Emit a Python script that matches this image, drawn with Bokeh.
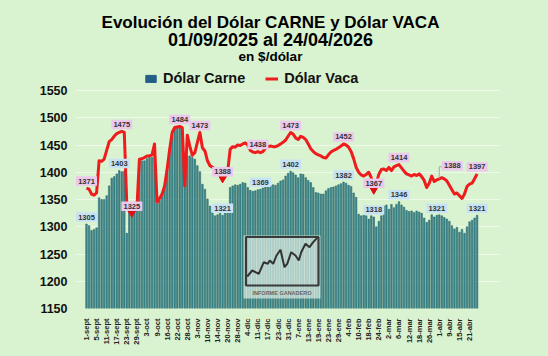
import math
from bokeh.plotting import figure
from bokeh.models import ColumnDataSource, FixedTicker, Legend, LegendItem
from bokeh.core.properties import value
from bokeh.embed import file_html
from bokeh.resources import INLINE

# ---------------- data ----------------
tick_labels = ["1-sept", "5-sept", "11-sept", "17-sept", "23-sept", "29-sept", "3-oct", "9-oct",
               "16-oct", "22-oct", "28-oct", "3-nov", "10-nov", "14-nov", "20-nov", "28-nov",
               "4-dic", "11-dic", "17-dic", "23-dic", "31-dic", "7-ene", "13-ene", "19-ene",
               "23-ene", "29-ene", "4-feb", "10-feb", "18-feb", "24-feb", "2-mar", "6-mar",
               "12-mar", "18-mar", "26-mar", "1-abr", "9-abr", "15-abr", "21-abr"]

carne = [1305, 1302, 1293, 1295, 1298, 1353, 1350, 1350, 1357, 1375,
         1389, 1392, 1397, 1403, 1401, 1402, 1288, 1330, 1326, 1328,
         1332, 1420, 1421, 1421, 1425, 1427, 1427, 1430, 1342, 1348,
         1362, 1375, 1400, 1442, 1467, 1480, 1482, 1481, 1473, 1428,
         1430, 1430, 1427, 1424, 1412, 1401, 1378, 1369, 1351, 1338,
         1326, 1320, 1322, 1326, 1321, 1326, 1327, 1372, 1375, 1377,
         1376, 1378, 1381, 1380, 1372, 1367, 1365, 1366, 1368, 1369,
         1371, 1374, 1376, 1375, 1377, 1376, 1380, 1384, 1386, 1393,
         1398, 1402, 1399, 1395, 1390, 1397, 1396, 1390, 1385, 1381,
         1372, 1363, 1362, 1360, 1360, 1366, 1370, 1372, 1373, 1375,
         1377, 1379, 1382, 1380, 1376, 1374, 1362, 1354, 1323, 1320,
         1321, 1320, 1314, 1320, 1318, 1300, 1310, 1320, 1338, 1340,
         1332, 1341, 1335, 1341, 1346, 1340, 1336, 1330, 1328, 1329,
         1326, 1329, 1327, 1325, 1316, 1308, 1312, 1322, 1318, 1321,
         1322, 1320, 1317, 1314, 1310, 1302, 1296, 1299, 1290, 1295,
         1288, 1300, 1309, 1312, 1316, 1321]

vaca = [1371, 1369, 1360, 1358, 1362, 1421, 1420, 1424, 1440, 1456,
        1460, 1466, 1471, 1473, 1475, 1473, 1340, 1328, 1325, 1330,
        1334, 1424, 1425, 1427, 1430, 1430, 1432, 1452, 1345, 1352,
        1360, 1375, 1406, 1442, 1473, 1482, 1483, 1484, 1482, 1375,
        1468, 1448, 1431, 1436, 1455, 1473, 1445, 1439, 1421, 1412,
        1409, 1406, 1403, 1394, 1388, 1392, 1400, 1442, 1447, 1446,
        1450, 1449, 1452, 1454, 1450, 1440, 1437, 1436, 1438, 1436,
        1438, 1444, 1447, 1448, 1447, 1447, 1449, 1452, 1455, 1459,
        1466, 1473, 1470, 1463, 1460, 1466, 1464, 1460, 1452, 1443,
        1438, 1434, 1432, 1430, 1427, 1426, 1432, 1437, 1440, 1442,
        1445, 1448, 1452, 1450, 1446, 1438, 1425, 1409, 1400, 1395,
        1393, 1396, 1400, 1390, 1367, 1380, 1396, 1405, 1406, 1403,
        1409, 1403, 1410, 1412, 1414, 1408, 1402, 1397, 1395, 1393,
        1396, 1394, 1397, 1392, 1385, 1372, 1380, 1393, 1383, 1386,
        1388, 1390, 1388, 1384, 1376, 1368, 1360, 1362, 1357, 1352,
        1360, 1374, 1378, 1380, 1388, 1397]

carne_label_idx = [0, 13, 54, 69, 81, 102, 114, 124, 139, 155]
vaca_label_idx = [0, 14, 18, 37, 45, 54, 68, 81, 102, 114, 124, 155]
vaca_leader_idx = [140]
vaca_min_idx = [18, 54, 114]
y_ticks = [1150, 1200, 1250, 1300, 1350, 1400, 1450, 1500, 1550]

# ---------------- layout (page px; the Bokeh page has no margin) ----------------
BG = "#d9f2d0"
W, H = 548, 356
FL, FR, FB = 75, 500, 308        # frame left/right/bottom in page px
PXB = 2.52                        # px per bar
PXU = 0.545                       # px per $ unit
X_FIRST = 86                      # page x of first bar
x0 = -(X_FIRST - FL) / PXB
x1 = x0 + (FR - FL) / PXB
y0 = 1150
y1 = y0 + FB / PXU


def fx(px):
    return x0 + (px - FL) / PXB


def fy(py):
    return y0 + (FB - py) / PXU


FONT = "Liberation Sans"
n = len(carne)
idx = list(range(n))
src = ColumnDataSource(dict(x=idx, carne=carne, vaca=vaca))

p = figure(width=W, height=H, x_range=(x0, x1), y_range=(y0, y1),
           output_backend="svg", toolbar_location=None,
           min_border_left=FL, min_border_right=W - FR,
           min_border_top=0, min_border_bottom=H - FB)
p.title.text = ""
p.background_fill_color = BG
p.border_fill_color = BG
p.outline_line_color = None

p.xgrid.visible = False
p.ygrid.ticker = FixedTicker(ticks=y_ticks)
p.ygrid.grid_line_color = "#eef9ea"
p.ygrid.grid_line_width = 1
p.ygrid.bounds = (fx(83), fx(478))

# axes
p.yaxis.ticker = FixedTicker(ticks=y_ticks)
p.yaxis.axis_line_color = None
p.yaxis.major_tick_line_color = None
p.yaxis.minor_tick_line_color = None
p.yaxis.major_label_text_font = FONT
p.yaxis.major_label_text_font_style = "bold"
p.yaxis.major_label_text_font_size = "12.5px"
p.yaxis.major_label_text_color = "#111111"
p.yaxis.major_label_standoff = 2

p.xaxis.ticker = FixedTicker(ticks=[4 * k for k in range(len(tick_labels))])
p.xaxis.major_label_overrides = {4 * k: lab for k, lab in enumerate(tick_labels)}
p.xaxis.major_label_orientation = math.pi / 2
p.xaxis.axis_line_color = None
p.xaxis.major_tick_line_color = None
p.xaxis.minor_tick_line_color = None
p.xaxis.major_label_text_font = FONT
p.xaxis.major_label_text_font_style = "bold"
p.xaxis.major_label_text_font_size = "7.5px"
p.xaxis.major_label_text_color = "#222222"
p.xaxis.major_label_standoff = 4

# bars
p.vbar(x="x", top="carne", bottom=y0, width=0.62, source=src,
       fill_color="#3f8c8e", line_color="#1f5d66", line_width=0.5)

# logo watermark
p.quad(left=[fx(243)], right=[fx(320)], bottom=[fy(298)], top=[fy(235)],
       fill_color="#f4fbf2", fill_alpha=0.62, line_color=None)
p.quad(left=[fx(245.5)], right=[fx(318)], bottom=[fy(285)], top=[fy(236.5)],
       fill_color=None, line_color="#3a3a3a", line_width=2.2)
logo_px = [(246.7, 276), (251.7, 270), (258.3, 273.3), (263.3, 261.7), (267.3, 263.3),
           (269.3, 260), (272.7, 263.3), (276, 255), (280, 249.3), (284, 266.7),
           (286.7, 263.3), (290.7, 251.7), (295, 255), (298.3, 260), (300.7, 251.7),
           (305, 243.3), (309, 246.7), (312.7, 241.7), (316.7, 237.3)]
p.line([fx(a) for a, b in logo_px], [fy(b) for a, b in logo_px],
       line_color="#333333", line_width=2)
p.text(x=[fx(281.5)], y=[fy(292.5)], text=["INFORME GANADERO"],
       text_font=value(FONT), text_font_style="bold", text_font_size="5.5px",
       text_color="#666666", text_align="center", text_baseline="middle")

# vaca line
r_line = p.line("x", "vaca", source=src, line_color="#ee1c1c", line_width=3,
                line_join="round")

# min markers
msrc = ColumnDataSource(dict(x=vaca_min_idx, y=[vaca[i] for i in vaca_min_idx]))
p.scatter("x", "y", source=msrc, marker="inverted_triangle", size=7,
          color="#e01010")

# leader line for the offset label
for i in vaca_leader_idx:
    dy = 12 / PXU
    p.line([i, i, i + 1.6], [vaca[i], vaca[i] + dy, vaca[i] + dy],
           line_color="#9a9a9a", line_width=0.8)


def add_labels(ids, vals, bg, dx_px=0.0, dy_px=7.0):
    xs = [i + dx_px / PXB for i in ids]
    ys = [vals[i] + dy_px / PXU for i in ids]
    s = ColumnDataSource(dict(x=xs, y=ys, t=[str(vals[i]) for i in ids]))
    p.rect("x", "y", width=21, height=9.5, width_units="screen",
           height_units="screen", source=s, fill_color=bg, line_color=None)
    p.text("x", "y", text="t", source=s, text_align="center",
           text_baseline="middle", text_font=value(FONT),
           text_font_style="bold", text_font_size="7.5px", text_color="#333333")


add_labels(carne_label_idx, carne, "#c7e3f3")
add_labels(vaca_label_idx, vaca, "#ecc8ec")
add_labels(vaca_leader_idx, vaca, "#ecc8ec", dx_px=13, dy_px=13)

# titles
p.text(x=[fx(270)], y=[fy(21.7)], text=["Evolución del Dólar CARNE y Dólar VACA"],
       text_font=value(FONT), text_font_style="bold", text_font_size="17px",
       text_color="#000000", text_align="center", text_baseline="middle")
p.text(x=[fx(270)], y=[fy(39.3)], text=["01/09/2025 al 24/04/2026"],
       text_font=value(FONT), text_font_style="bold", text_font_size="18px",
       text_color="#000000", text_align="center", text_baseline="middle")
p.text(x=[fx(270)], y=[fy(55.7)], text=["en $/dólar"],
       text_font=value(FONT), text_font_style="bold", text_font_size="13.5px",
       text_color="#000000", text_align="center", text_baseline="middle")

# legend (swatch renderer carries no data)
r_leg_c = p.vbar(x=[math.nan], top=[math.nan], width=0.5,
                 fill_color="#235e86", line_color="#235e86")
legend = Legend(items=[LegendItem(label="Dólar Carne", renderers=[r_leg_c]),
                       LegendItem(label="Dólar Vaca", renderers=[r_line])],
                orientation="horizontal", location=(69, 222),
                glyph_width=13, glyph_height=9, label_standoff=6, spacing=20,
                padding=0, margin=0, border_line_color=None,
                background_fill_alpha=0,
                label_text_font=FONT, label_text_font_style="bold",
                label_text_font_size="14.5px", label_text_color="#111111",
                label_height=12)
p.add_layout(legend)

html = file_html(p, INLINE)
html = html.replace("<head>", "<head><style>html,body{background:%s;}</style>" % BG, 1)
open("out.html", "w").write(html)
